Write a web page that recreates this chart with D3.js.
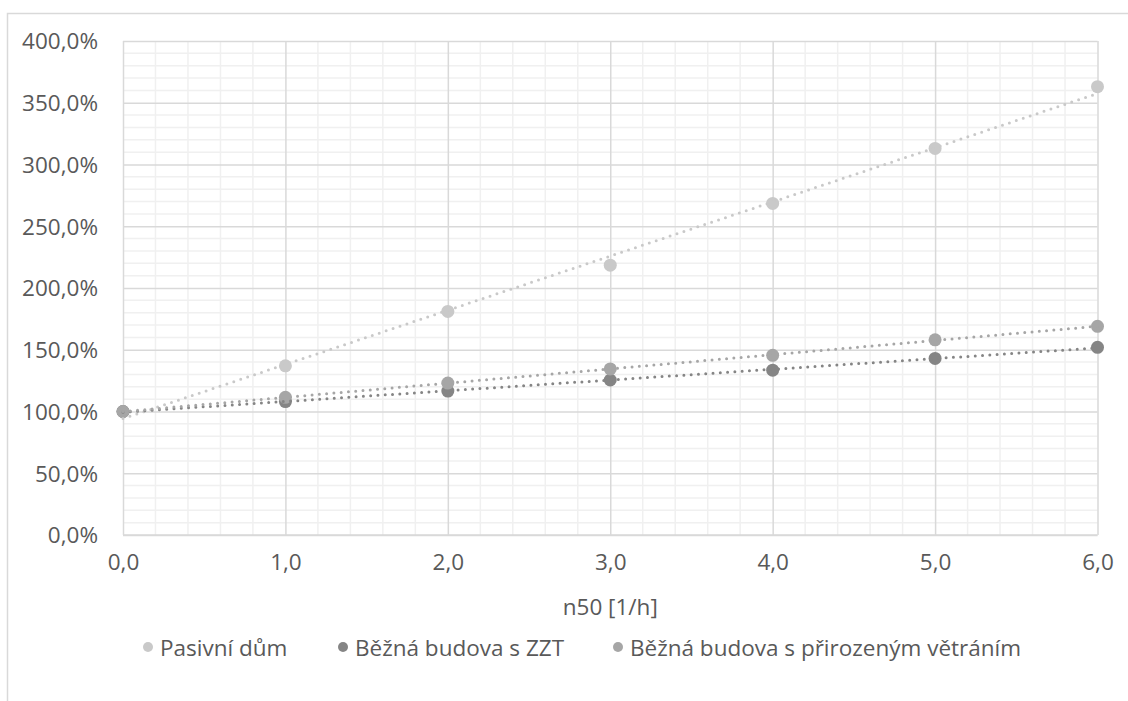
<!DOCTYPE html>
<html>
<head>
<meta charset="utf-8">
<script src="https://cdn.jsdelivr.net/npm/d3@7"></script>
<style>
  html, body { margin: 0; padding: 0; background: #fff; }
  svg { display: block; }
  text { font-family: "Open Sans", "Noto Sans", sans-serif; fill: #595959; }
</style>
</head>
<body>
<svg id="chart" width="1128" height="701"></svg>
<script>
// Air-tightness n50 [1/h] vs. relative heat demand
const n50 = [0, 1, 2, 3, 4, 5, 6];
const seriesNames = ["Pasivní dům", "Běžná budova s ZZT", "Běžná budova s přirozeným větráním"];
const pasivniDum = [100, 137, 181, 218.5, 268.5, 313, 363];
const budovaZZT = [100, 108, 116.5, 125.5, 133.5, 143, 152];
const budovaPrirozene = [100, 111.5, 123, 134.5, 145.5, 158, 169];
const yTicks = [0, 50, 100, 150, 200, 250, 300, 350, 400];
const xTicks = [0, 1, 2, 3, 4, 5, 6];
const xTitle = "n50 [1/h]";

const fontSize = 22.5;
const colors = ["#c9c9c9", "#858585", "#a6a6a6"];
const series = [pasivniDum, budovaZZT, budovaPrirozene].map((vals, i) => ({
  name: seriesNames[i], color: colors[i],
  points: n50.map((x, j) => ({ x, y: vals[j] }))
}));

const svg = d3.select("#chart");
const plot = { left: 123, right: 1097.5, top: 41, bottom: 535 };

const x = d3.scaleLinear().domain([0, 6]).range([plot.left, plot.right]);
const y = d3.scaleLinear().domain([0, 400]).range([plot.bottom, plot.top]);

// outer chart frame
svg.append("rect")
  .attr("x", 7.5).attr("y", 13.5)
  .attr("width", 1200).attr("height", 800)
  .attr("fill", "none").attr("stroke", "#d9d9d9").attr("stroke-width", 1.5);

const grid = svg.append("g");
// minor gridlines
grid.selectAll("line.ymin").data(d3.range(0, 401, 10).filter(v => v % 50 !== 0))
  .join("line")
  .attr("x1", plot.left).attr("x2", plot.right)
  .attr("y1", d => y(d)).attr("y2", d => y(d))
  .attr("stroke", "#f0f0f0").attr("stroke-width", 1.5);
grid.selectAll("line.xmin").data(d3.range(0, 30).map(i => i * 0.2).filter((v, i) => i % 5 !== 0))
  .join("line")
  .attr("y1", plot.top).attr("y2", plot.bottom)
  .attr("x1", d => x(d)).attr("x2", d => x(d))
  .attr("stroke", "#f0f0f0").attr("stroke-width", 1.5);

// major gridlines
const yAxis = d3.axisLeft(y).tickValues(yTicks)
  .tickSize(-(plot.right - plot.left))
  .tickFormat(d => d3.format(".1f")(d).replace(".", ",") + "%")
  .tickPadding(25);
const gy = svg.append("g").attr("transform", `translate(${plot.left},0)`).call(yAxis);
gy.select(".domain").remove();
gy.selectAll(".tick line").attr("stroke", "#d9d9d9").attr("stroke-width", 1.5);
gy.selectAll(".tick text").attr("font-size", fontSize).attr("fill", "#595959").attr("dy", "0.35em");

const xAxis = d3.axisBottom(x).tickValues(xTicks)
  .tickSize(-(plot.bottom - plot.top))
  .tickFormat(d => d3.format(".1f")(d).replace(".", ","))
  .tickPadding(19);
const gx = svg.append("g").attr("transform", `translate(0,${plot.bottom})`).call(xAxis);
gx.select(".domain").remove();
gx.selectAll(".tick line").attr("stroke", "#d9d9d9").attr("stroke-width", 1.5);
gx.selectAll(".tick text").attr("font-size", fontSize).attr("fill", "#595959").attr("dy", "0.71em");

// axis bottom line
svg.append("line")
  .attr("x1", plot.left).attr("x2", plot.right)
  .attr("y1", plot.bottom).attr("y2", plot.bottom)
  .attr("stroke", "#d9d9d9").attr("stroke-width", 1.5);

svg.append("text")
  .attr("x", (plot.left + plot.right) / 2).attr("y", 606)
  .attr("text-anchor", "middle").attr("dominant-baseline", "central")
  .attr("font-size", fontSize).text(xTitle);

// linear trendlines (least squares)
function fit(points) {
  const mx = d3.mean(points, p => p.x), my = d3.mean(points, p => p.y);
  const sxy = d3.sum(points, p => (p.x - mx) * (p.y - my));
  const sxx = d3.sum(points, p => (p.x - mx) ** 2);
  const b = sxy / sxx;
  return { a: my - b * mx, b };
}
const line = d3.line().x(d => x(d.x)).y(d => y(d.y));

// markers first, trendlines drawn over them
series.forEach(s => {
  svg.append("g").selectAll("circle").data(s.points).join("circle")
    .attr("cx", d => x(d.x)).attr("cy", d => y(d.y)).attr("r", 6.5)
    .attr("fill", s.color);
});
series.forEach(s => {
  const { a, b } = fit(s.points);
  const ends = [0, 6].map(v => ({ x: v, y: a + b * v }));
  svg.append("path").datum(ends)
    .attr("d", line)
    .attr("fill", "none")
    .attr("stroke", s.color)
    .attr("stroke-width", 3)
    .attr("stroke-linecap", "round")
    .attr("stroke-dasharray", "0 7.3");
});

// legend
const legendX = [148, 343, 618];
const legend = svg.append("g");
series.forEach((s, i) => {
  const g = legend.append("g").attr("transform", `translate(${legendX[i]},647)`);
  g.append("circle").attr("r", 5).attr("fill", s.color);
  g.append("text").attr("x", 12).attr("dominant-baseline", "central")
    .attr("font-size", fontSize).text(s.name);
});
</script>
</body>
</html>
